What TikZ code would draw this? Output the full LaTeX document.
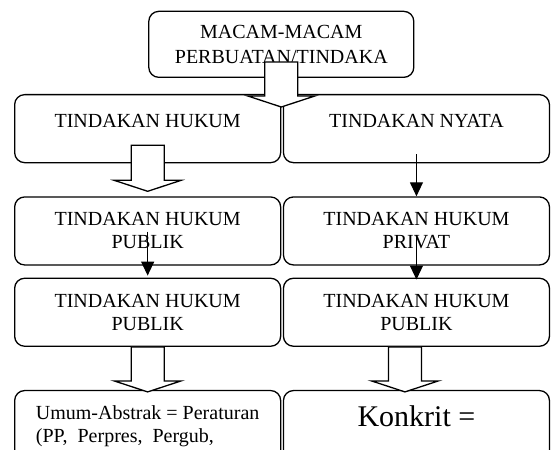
\documentclass[tikz,border=0pt]{standalone}
\usepackage{fontspec}
\setmainfont{Liberation Serif}
\usetikzlibrary{calc}
\usetikzlibrary{arrows.meta}
\usetikzlibrary{positioning}

\begin{document}
\begin{tikzpicture}[>={Triangle[width=13pt,length=14pt]},
	box/.style={
		draw, % frame of every box
		line width=1.3pt,
		anchor=center,
		align=center,
		rounded corners=10pt,
		minimum width=266pt,
		minimum height=68pt,
		inner sep=0pt,
		font=\fontsize{20}{23}\selectfont,
	},
	lifted/.style={text depth=16pt},
	tall/.style={minimum height=92pt},
	fat/.style={
		draw, fill=white, line width=1.3pt,
		to path={let \p1=(\tikztostart), \p2=(\tikztotarget) in
			(\x1-16.5pt,\y1) -- (\x1+16.5pt,\y1) -- (\x1+16.5pt,\y2+11pt)
			-- (\x1+33.5pt,\y2+11pt) -- (\x1,\y2) -- (\x1-33.5pt,\y2+11pt)
			-- (\x1-16.5pt,\y2+11pt) -- cycle},
	},
	link/.style={->, line width=1.2pt},
]
	\useasboundingbox (0,0) rectangle (553pt,-449pt);
	\clip (0,0) rectangle (553pt,-449pt);

	\node (hukum) [box, lifted, anchor=north west] at (14pt,-94pt) {TINDAKAN HUKUM};
	\node (nyata) [box, lifted, right=1.5pt of hukum] {TINDAKAN NYATA};
	\node (publik) [box, below=33pt of hukum] {TINDAKAN HUKUM\\PUBLIK};
	\node (privat) [box, below=33pt of nyata] {TINDAKAN HUKUM\\PRIVAT};
	\node (publikL) [box, below=12pt of publik] {TINDAKAN HUKUM\\PUBLIK};
	\node (publikR) [box, below=12pt of privat] {TINDAKAN HUKUM\\PUBLIK};
	\node (abstrak) [box, tall, align=left, text depth=25pt, below=43pt of publikL]
		{Umum-Abstrak = Peraturan\\(PP,~~Perpres,~~Pergub,};
	\node (konkrit) [box, tall, text depth=40pt, font=\fontsize{30}{34}\selectfont,
		below=43pt of publikR] {Konkrit =};
	\node (top) [box, minimum width=265pt, minimum height=66pt,
		font=\fontsize{20}{25}\selectfont,
		above=16pt of hukum.north east] {MACAM-MACAM\\PERBUATAN/TINDAKA};

	% block arrows
	\draw[fat] ([yshift=16pt]top.south) to ([yshift=-13pt]hukum.north);
	\draw[fat] ([yshift=18pt]hukum.south) to ([yshift=5pt]publik.north);
	\draw[fat] (publikL.south) to ([yshift=-2pt]abstrak.north);
	\draw[fat] ([xshift=-11.5pt]publikR.south) to ([yshift=-2pt]konkrit.north);

	% plain arrows
	\draw[link] ([yshift=9pt]nyata.south) -- (privat.north);
	\draw[link] ([yshift=34pt]publik.south) -- ([yshift=2pt]publikL.north);
	\draw[link] ([yshift=31pt]privat.south) -- ([yshift=-2pt]publikR.north);
\end{tikzpicture}
\end{document}
